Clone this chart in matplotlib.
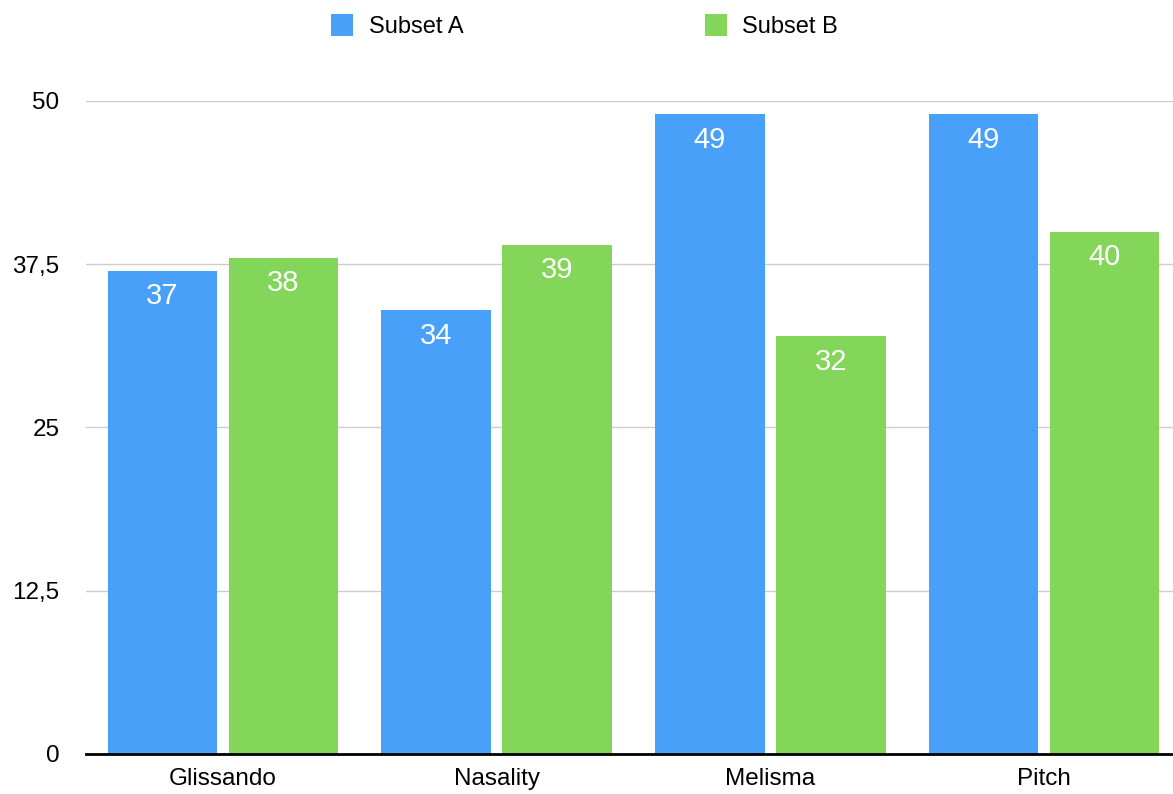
import matplotlib
matplotlib.use("Agg")
import matplotlib.pyplot as plt
import numpy as np

categories = ["Glissando", "Nasality", "Melisma", "Pitch"]
subset_a = [37, 34, 49, 49]
subset_b = [38, 39, 32, 40]
y_ticks = [0, 12.5, 25, 37.5, 50]
y_tick_labels = ["0", "12,5", "25", "37,5", "50"]

plt.rcParams["font.family"] = ["Liberation Sans", "DejaVu Sans"]

blue = "#48A0F8"
green = "#84D65A"

fig = plt.figure(figsize=(11.73, 7.94), dpi=100)
ax = fig.add_axes([0.0733, 0.0504, 0.9335, 0.8224])

x = np.arange(len(categories))
width = 0.4
offset = 0.221
bars_a = ax.bar(x - offset, subset_a, width, color=blue, label="Subset A", zorder=2)
bars_b = ax.bar(x + offset, subset_b, width, color=green, label="Subset B", zorder=2)

# value labels sit inside the top of each bar
for bars in (bars_a, bars_b):
    for bar in bars:
        h = bar.get_height()
        ax.annotate(f"{h:g}", (bar.get_x() + bar.get_width() / 2, h),
                    xytext=(0, -18.5), textcoords="offset points",
                    ha="center", va="center", color="white", fontsize=21)

ax.set_xlim(-0.5, 3.5)
ax.set_ylim(0, 50)
ax.set_xticks(x)
ax.set_xticklabels(categories, fontsize=17.5)
ax.set_yticks(y_ticks)
ax.set_yticklabels(y_tick_labels, fontsize=17.5)
ax.tick_params(axis="both", length=0)
ax.tick_params(axis="y", pad=19)
ax.tick_params(axis="x", pad=10)

ax.yaxis.grid(True, color="#CCCCCC", linewidth=1, zorder=0)
for side in ("left", "right", "top"):
    ax.spines[side].set_visible(False)
ax.spines["bottom"].set_color("black")
ax.spines["bottom"].set_linewidth(2)
ax.spines["bottom"].set_zorder(3)

fig.legend(handles=[bars_a, bars_b], labels=["Subset A", "Subset B"],
           loc="center", bbox_to_anchor=(0.4985, 0.967), ncol=2,
           frameon=False, fontsize=17, handlelength=0.93, handleheight=1.0,
           handletextpad=0.64, columnspacing=10.25, borderpad=0)

fig.savefig("out.png", dpi=100)
